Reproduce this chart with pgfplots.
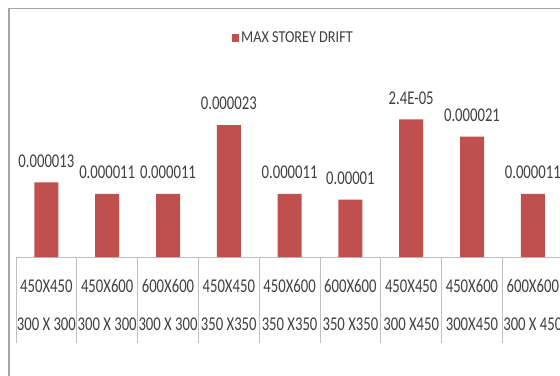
\documentclass[border=0pt]{standalone}
\usepackage{pgfplots}
\pgfplotsset{compat=1.18}
\usepackage{pgfplotstable}
\usepackage{graphicx}
\usepackage{fontspec}
\setmainfont{Carlito}
\definecolor{barred}{HTML}{C0504D}
\definecolor{framegray}{HTML}{A6A6A6}
\definecolor{gridgray}{HTML}{BFBFBF}
\definecolor{txt}{HTML}{404040}
\newcommand{\st}[1]{\scalebox{0.98}[1.3]{#1}}
\pgfplotstableread{
x y label
0 0.000013 0.000013
1 0.000011 0.000011
2 0.000011 0.000011
3 0.000023 0.000023
4 0.000011 0.000011
5 0.000010 0.00001
6 0.000024 2.4E-05
7 0.000021 0.000021
8 0.000011 0.000011
}\drift
\begin{document}
\begin{tikzpicture}
\path[use as bounding box] (0,0) rectangle (560bp,376bp);
\clip (0,0) rectangle (560bp,376bp);
\fill[white] (0,0) rectangle (560bp,376bp);
\draw[framegray, line width=1.5bp] (9bp,-10bp) -- (9bp,367.5bp) -- (580bp,367.5bp);
\begin{axis}[
  at={(16bp,119bp)}, anchor=south west,
  scale only axis, width=547.2bp, height=172bp,
  xmin=-0.5, xmax=8.5, ymin=0, ymax=0.00003,
  axis x line*=bottom, axis y line=none,
  axis line style={gridgray, line width=0.8bp},
  ybar, bar width=24bp,
  xtick={0,...,8},
  xticklabels={{\st{450X450}\\[20bp]\st{300 X 300}},{\st{450X600}\\[20bp]\st{300 X 300}},{\st{600X600}\\[20bp]\st{300 X 300}},{\st{450X450}\\[20bp]\st{350 X350}},{\st{450X600}\\[20bp]\st{350 X350}},{\st{600X600}\\[20bp]\st{350 X350}},{\st{450X450}\\[20bp]\st{300 X450}},{\st{450X600}\\[20bp]\st{300X450}},{\st{600X600}\\[20bp]\st{300 X 450}}},
  xticklabel style={align=center, font=\fontsize{15bp}{18bp}\selectfont, text=txt, anchor=north, inner sep=0pt, yshift=-22.5bp},
  major tick length=0pt,
  extra x ticks={-0.5,0.5,...,8.5},
  extra x tick labels={},
  extra x tick style={major tick length=86bp, tick align=outside, tick pos=bottom, tick style={gridgray, line width=0.8bp}},
  nodes near coords={\st{\pgfplotspointmeta}},
  point meta=explicit symbolic,
  every node near coord/.append style={font=\fontsize{15bp}{18bp}\selectfont, text=txt, anchor=south, inner sep=0pt, yshift=15bp},
  clip=false,
  legend style={at={(axis description cs:0.507,1.276)}, anchor=center, draw=none, fill=none, font=\fontsize{14.5bp}{17bp}\selectfont, text=txt, inner sep=0pt},
  legend image code/.code={\fill[barred] (0bp,-4bp) rectangle (7bp,4bp);},
]
\addplot[fill=barred, draw=none] table[x=x, y=y, meta=label] {\drift};
\addlegendentry{\scalebox{0.98}[1.15]{MAX STOREY DRIFT}}
\end{axis}
\end{tikzpicture}
\end{document}
